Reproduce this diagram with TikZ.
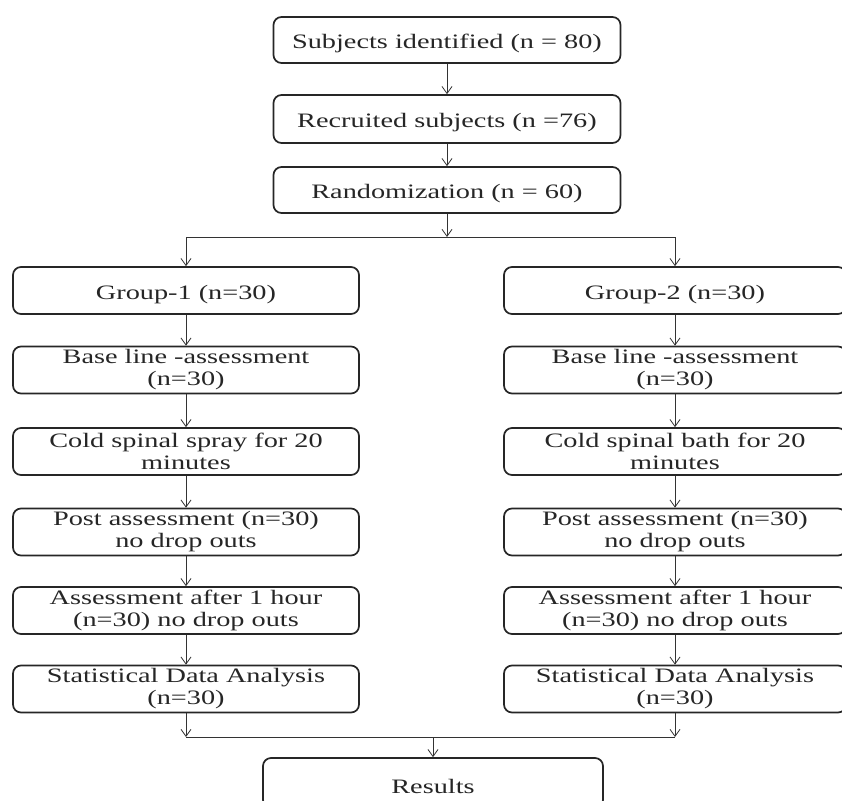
\documentclass[tikz,border=0pt]{standalone}
\usepackage{fontspec}
\setmainfont{Liberation Serif}[FakeStretch=1.38]
\usetikzlibrary{arrows.meta}
\begin{document}
\begin{tikzpicture}[x=1pt,y=-1pt,
  box/.style={draw=black!85, line width=1.7pt, rounded corners=8pt, fill=white,
    align=center, inner sep=0pt, text=black!85,
    font=\fontsize{20.5}{22}\selectfont,
    execute at begin node={\rule{0pt}{22pt}}},
  topbox/.style={box, minimum width=347pt, minimum height=46pt},
  lbox/.style={box, minimum width=346pt, minimum height=47pt},
  rbox/.style={box, minimum width=342pt, minimum height=47pt},
  arr/.style={-{Straight Barb[length=7pt,width=10pt]}, line width=0.8pt, draw=black!80},
  plain/.style={line width=0.8pt, draw=black!80}]
\useasboundingbox (0,0) rectangle (842,800);
\clip (0,0) rectangle (842,800);
\fill[white] (0,0) rectangle (842,800);
% top column
\node[topbox] (s1) at (447,40) {Subjects identified (n = 80)};
\node[topbox, minimum height=48pt] (s2) at (447,119) {Recruited subjects (n =76)};
\node[topbox] (s3) at (447,190) {Randomization (n = 60)};
% left column
\node[lbox] (g1) at (186,290.5) {Group-1 (n=30)};
\node[lbox] (b1) at (186,370) {Base line -assessment\\(n=30)};
\node[lbox] (c1) at (186,451.5) {Cold spinal spray for 20\\minutes};
\node[lbox] (p1) at (186,532) {Post assessment (n=30)\\no drop outs};
\node[lbox] (a1) at (186,610.5) {Assessment after 1 hour\\(n=30) no drop outs};
\node[lbox] (t1) at (186,689) {Statistical Data Analysis\\(n=30)};
% right column
\node[rbox] (g2) at (675,290.5) {Group-2 (n=30)};
\node[rbox] (b2) at (675,370) {Base line -assessment\\(n=30)};
\node[rbox] (c2) at (675,451.5) {Cold spinal bath for 20\\minutes};
\node[rbox] (p2) at (675,532) {Post assessment (n=30)\\no drop outs};
\node[rbox] (a2) at (675,610.5) {Assessment after 1 hour\\(n=30) no drop outs};
\node[rbox] (t2) at (675,689) {Statistical Data Analysis\\(n=30)};
% results
\node[box, minimum width=340pt, minimum height=50pt] (res) at (433,783) {Results};
% junction points
\coordinate (split) at (447,237);
\coordinate (sL) at (186,237);
\coordinate (sR) at (675,237);
\coordinate (mL) at (186,737);
\coordinate (mR) at (675,737);
\coordinate (mC) at (433,737);
% connectors
\draw[arr] (s1.south) -- (s2.north);
\draw[arr] (s2.south) -- (s3.north);
\draw[arr] (s3.south) -- (split);
\draw[plain] (sL) -- (sR);
\draw[arr] (sL) -- (g1.north);
\draw[arr] (sR) -- (g2.north);
\draw[arr] (g1.south) -- (b1.north);
\draw[arr] (b1.south) -- (c1.north);
\draw[arr] (c1.south) -- (p1.north);
\draw[arr] (p1.south) -- (a1.north);
\draw[arr] (a1.south) -- (t1.north);
\draw[arr] (g2.south) -- (b2.north);
\draw[arr] (b2.south) -- (c2.north);
\draw[arr] (c2.south) -- (p2.north);
\draw[arr] (p2.south) -- (a2.north);
\draw[arr] (a2.south) -- (t2.north);
\draw[arr] (t1.south) -- (mL);
\draw[arr] (t2.south) -- (mR);
\draw[plain] (mL) -- (mR);
\draw[arr] (mC) -- (res.north);
\end{tikzpicture}
\end{document}
